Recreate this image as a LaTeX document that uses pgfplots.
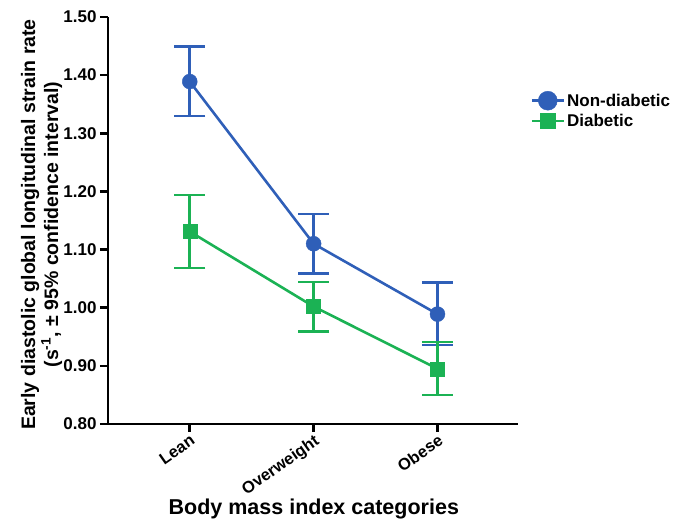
\documentclass[border=0pt]{standalone}
\usepackage{pgfplots}
\pgfplotsset{compat=1.18}
\usepackage{fontspec}
\setmainfont{Liberation Sans}
\usetikzlibrary{calc}
\definecolor{nblue}{RGB}{47,95,184}
\definecolor{dgreen}{RGB}{27,178,84}
\begin{document}
\begin{tikzpicture}
\begin{axis}[name=ax, scale only axis, width=410pt, height=407pt,
  xmin=-0.66, xmax=2.65, ymin=0.8, ymax=1.5,
  axis x line*=bottom, axis y line*=left,
  axis line style={line width=2.6pt, black},
  every tick/.style={line width=2.6pt, black},
  major tick length=8pt, tick align=outside,
  xtick={0,1,2}, xticklabels={Lean,Overweight,Obese},
  ytick={0.8,0.9,1.0,1.1,1.2,1.3,1.4,1.5},
  yticklabel style={/pgf/number format/fixed, /pgf/number format/fixed zerofill, /pgf/number format/precision=2, /pgf/number format/assume math mode=true,
    font=\bfseries\fontsize{17}{20}\selectfont},
  xticklabel style={font=\bfseries\fontsize{16.5}{19}\selectfont, rotate=35, anchor=north east, inner sep=1pt},
  ylabel={Early diastolic global longitudinal strain rate\\(s\textsuperscript{-1}, ± 95\% confidence interval)},
  ylabel style={at={(rel axis cs:-0.162,0.49)}, anchor=center, align=center, font=\bfseries\fontsize{19.5}{23}\selectfont},
  xlabel={Body mass index categories},
  xlabel style={at={(rel axis cs:0.502,-0.21)}, anchor=center, font=\bfseries\fontsize{21.5}{25}\selectfont},
  clip=false,
  legend style={at={(1.03,0.77)}, anchor=west, draw=none, fill=none, font=\bfseries\fontsize{17}{20}\selectfont, row sep=2pt, inner sep=0pt},
  legend cell align=left,
  legend image code/.code={\draw[mark repeat=2,mark phase=2] plot coordinates {(0pt,0pt)(16pt,0pt)(32pt,0pt)};},
]
\addplot[nblue, line width=2.6pt, mark=*, mark size=7.5pt, mark options={line width=0.4pt},
  legend image post style={mark size=9.5pt},
  error bars/.cd, y dir=both, y explicit,
  error bar style={line width=2.6pt, nblue},
  error mark options={rotate=90, line width=2.6pt, nblue, mark size=15.5pt}]
  table[x=x, y=y, y error plus=ep, y error minus=em] {
x y ep em
0 1.389 0.060 0.059
1 1.110 0.051 0.051
2 0.989 0.054 0.053
};
\addlegendentry{Non-diabetic}
\addplot[dgreen, line width=2.6pt, mark=square*, mark size=7pt, mark options={line width=0.4pt},
  legend image post style={mark size=7.5pt},
  error bars/.cd, y dir=both, y explicit,
  error bar style={line width=2.6pt, dgreen},
  error mark options={rotate=90, line width=2.6pt, dgreen, mark size=15.5pt}]
  table[x=x, y=y, y error plus=ep, y error minus=em] {
x y ep em
0 1.131 0.063 0.063
1 1.002 0.042 0.043
2 0.895 0.046 0.045
};
\addlegendentry{Diabetic}
\end{axis}
\path[use as bounding box] ($(ax.south west)+(-108pt,-100pt)$) rectangle ($(ax.south west)+(565pt,424pt)$);
\end{tikzpicture}
\end{document}
